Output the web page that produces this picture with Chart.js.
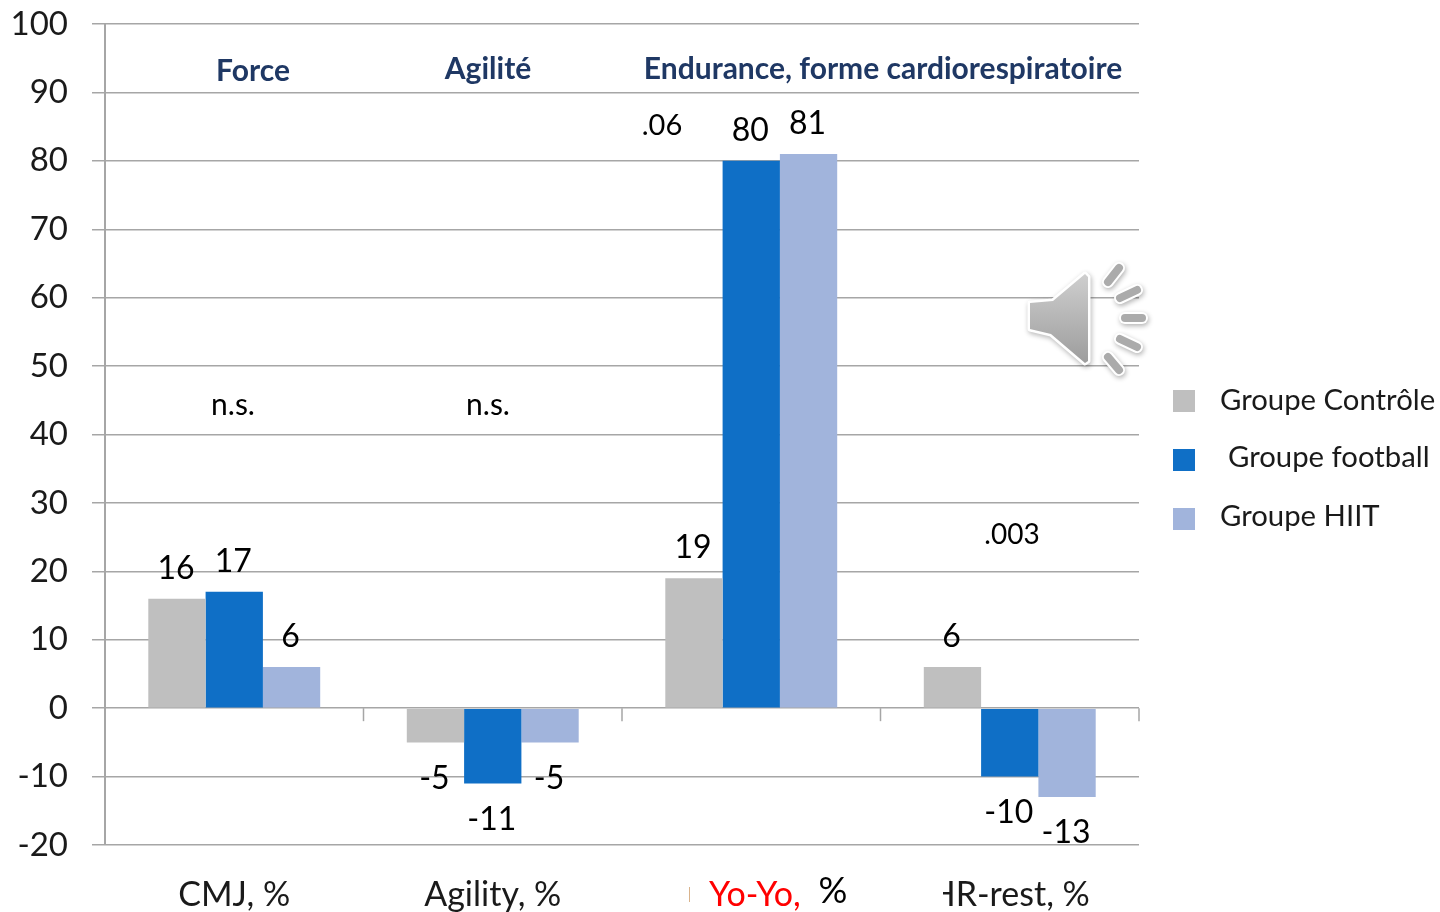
<!DOCTYPE html>
<html><head><meta charset="utf-8">
<style>html,body{margin:0;padding:0;background:#fff}#w{width:1440px;height:912px;position:relative}</style>
<script src="https://cdn.jsdelivr.net/npm/chart.js@4/dist/chart.umd.min.js"></script>
</head><body><div id="w"><canvas id="c" width="1440" height="912"></canvas></div>
<script>
const categories = ["CMJ, %", "Agility, %", "\u00a0Yo-Yo,", "HR-rest, %"];
const seriesNames = ["Groupe Contrôle", "Groupe football", "Groupe HIIT"];
const controle = [16, -5, 19, 6];
const football = [17, -11, 80, -10];
const hiit = [6, -5, 81, -13];
const yTicks = [100, 90, 80, 70, 60, 50, 40, 30, 20, 10, 0, -10, -20];
const colors = ["#BFBFBF", "#0F6FC6", "#A1B4DC"];
const FONT = "Lato, Carlito, sans-serif";
const GRID = "#A6A6A6";

function txt(ctx, s, x, y, font, color, align) {
  ctx.font = font; ctx.fillStyle = color; ctx.textAlign = align || "center"; ctx.textBaseline = "middle";
  ctx.fillText(s, x, y);
}
function speaker(ctx) {
  const body = [[1030,303],[1053,301],[1085,274],[1088,277],[1088,361],[1085,363],[1051,334],[1030,329]];
  const rays = [[1108,282,1119,268],[1120,298,1137,290],[1125,318,1142,318],[1120,339,1137,347],[1108,357,1119,370]];
  ctx.save();
  ctx.shadowColor = "rgba(0,0,0,.3)"; ctx.shadowBlur = 5; ctx.shadowOffsetX = 1; ctx.shadowOffsetY = 2;
  ctx.lineCap = "round"; ctx.lineJoin = "round";
  ctx.beginPath(); body.forEach((p,i)=> i?ctx.lineTo(p[0],p[1]):ctx.moveTo(p[0],p[1])); ctx.closePath();
  ctx.strokeStyle = "#fff"; ctx.lineWidth = 5; ctx.stroke();
  rays.forEach(r=>{ctx.beginPath();ctx.moveTo(r[0],r[1]);ctx.lineTo(r[2],r[3]);ctx.lineWidth=12;ctx.stroke();});
  ctx.shadowColor = "transparent";
  const g = ctx.createLinearGradient(0,273,0,364); g.addColorStop(0,"#CFCFCF"); g.addColorStop(1,"#9C9C9C");
  ctx.fillStyle = g;
  ctx.beginPath(); body.forEach((p,i)=> i?ctx.lineTo(p[0],p[1]):ctx.moveTo(p[0],p[1])); ctx.closePath(); ctx.fill();
  ctx.strokeStyle = "#ABABAB"; ctx.lineWidth = 8;
  rays.forEach(r=>{ctx.beginPath();ctx.moveTo(r[0],r[1]);ctx.lineTo(r[2],r[3]);ctx.stroke();});
  ctx.restore();
}
const overlay = {
  id: "overlay",
  afterDraw(chart) {
    const ctx = chart.ctx, x = chart.scales.x, y = chart.scales.y;
    ctx.save();
    const y0 = y.getPixelForValue(0), step = x.width / categories.length;
    ctx.strokeStyle = GRID; ctx.lineWidth = 1.5;
    for (let i = 1; i <= categories.length; i++) {
      const px = x.left + i * step;
      ctx.beginPath(); ctx.moveTo(px, y0); ctx.lineTo(px, y0 + 13); ctx.stroke();
    }
    chart.data.datasets.forEach((ds, d) => {
      chart.getDatasetMeta(d).data.forEach((bar, i) => {
        const v = ds.data[i];
        txt(ctx, String(v), bar.x - 1, y.getPixelForValue(v) + (v < 0 ? 36 : -30), "32px " + FONT, "#000");
      });
    });
    const head = "bold 30px " + FONT, note = "29px " + FONT;
    txt(ctx, "Force", 253, 71, head, "#1F3864");
    txt(ctx, "Agilité", 488, 69, head, "#1F3864");
    txt(ctx, "Endurance, forme cardiorespiratoire", 883, 69, head, "#1F3864");
    txt(ctx, "n.s.", 233, 405, "30px " + FONT, "#000");
    txt(ctx, "n.s.", 488, 405, "30px " + FONT, "#000");
    txt(ctx, ".06", 662, 126, note, "#000");
    txt(ctx, ".003", 1012, 535, "28px " + FONT, "#000");
    txt(ctx, "%", 833, 891, "36px " + FONT, "#000");
    ctx.fillStyle = "#fff"; ctx.fillRect(915, 872, 28, 40);
    ctx.fillStyle = "#D9B38C"; ctx.fillRect(689, 887, 1, 15);
    const rows = [[401, 1220, seriesNames[0]], [460, 1228, seriesNames[1]], [519, 1220, seriesNames[2]]];
    rows.forEach((r, i) => {
      ctx.fillStyle = colors[i]; ctx.fillRect(1173, r[0] - 11, 22, 22);
      txt(ctx, r[2], r[1], r[0] - (i ? 2 : 0), "29.3px " + FONT, "#1a1a1a", "left");
    });
    speaker(ctx);
    ctx.restore();
  }
};
new Chart(document.getElementById("c"), {
  type: "bar",
  data: {
    labels: categories,
    datasets: [controle, football, hiit].map((d, i) => ({
      label: seriesNames[i], data: d, backgroundColor: colors[i], borderWidth: 0,
      barPercentage: 1, categoryPercentage: 0.665
    }))
  },
  plugins: [overlay],
  options: {
    responsive: false, animation: false,
    layout: { padding: { top: 24, right: 301, left: 0, bottom: 0 } },
    plugins: { legend: { display: false }, tooltip: { enabled: false }, title: { display: false } },
    scales: {
      x: {
        position: "bottom",
        afterFit(s) { s.height = 67; s.paddingLeft = 0; s.paddingRight = 0; s.paddingTop = 0; s.paddingBottom = 0; },
        grid: { display: false }, border: { display: false },
        ticks: {
          autoSkip: false, maxRotation: 0, padding: 22,
          font: { family: FONT, size: 34 },
          color: c => c.index === 2 ? "#FF0000" : "#1a1a1a"
        }
      },
      y: {
        min: -20, max: 100,
        afterFit(s) { s.width = 105; s.paddingTop = 0; s.paddingBottom = 0; },
        afterBuildTicks(s) { s.ticks = yTicks.map(v => ({ value: v })); },
        grid: { color: GRID, lineWidth: 1.5, tickLength: 13, drawTicks: true },
        border: { display: true, color: GRID, width: 2 },
        ticks: { padding: 24, font: { family: FONT, size: 33 }, color: "#1a1a1a" }
      }
    }
  }
});
</script></body></html>
